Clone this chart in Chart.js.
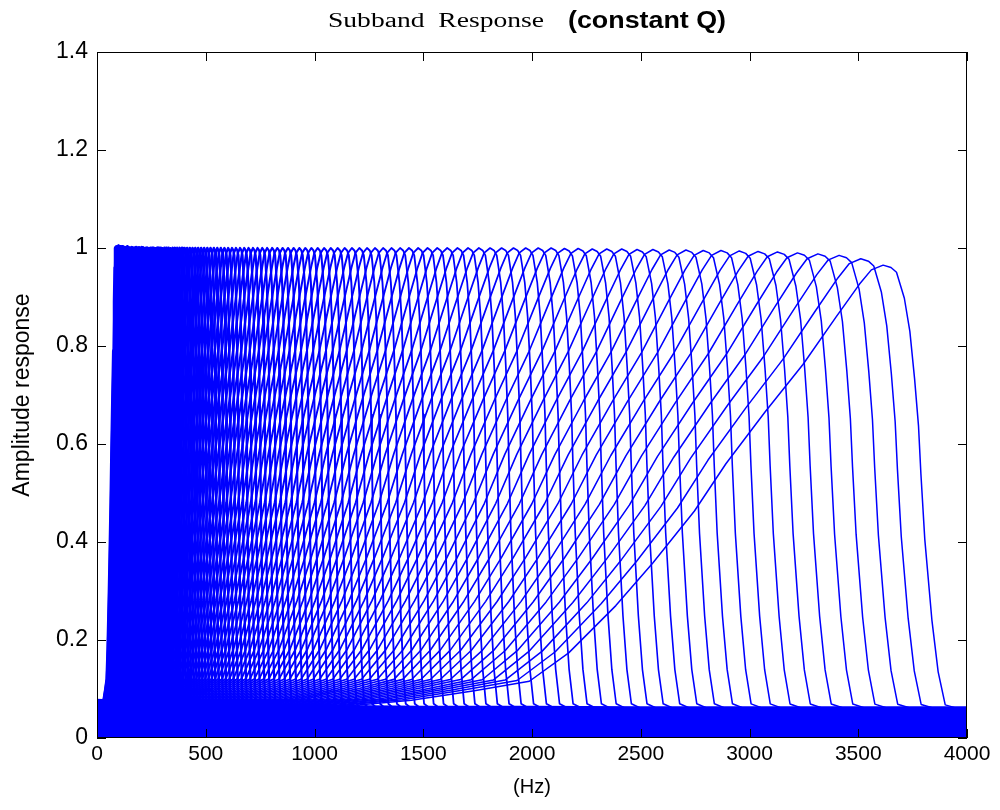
<!DOCTYPE html>
<html>
<head>
<meta charset="utf-8">
<script src="https://cdn.jsdelivr.net/npm/chart.js@4.4.1/dist/chart.umd.min.js"></script>
<style>
  html, body { margin: 0; padding: 0; background: #fff; }
  #wrap { width: 1000px; height: 810px; }
</style>
</head>
<body>
<div id="wrap"><canvas id="chart" width="1000" height="810"></canvas></div>
<script>
const centerHz = [
  87.1, 89.7, 92.3, 95.0, 97.8, 100.6, 103.6, 106.6, 109.7, 113.0, 116.3, 119.7,
  123.2, 126.8, 130.5, 134.3, 138.3, 142.3, 146.5, 150.8, 155.2, 159.7, 164.4, 169.2,
  174.2, 179.3, 184.6, 190.0, 195.5, 201.3, 207.2, 213.2, 219.5, 225.9, 232.5, 239.4,
  246.4, 253.6, 261.0, 268.7, 276.5, 284.6, 293.0, 301.6, 310.4, 319.5, 328.8, 338.5,
  348.4, 358.6, 369.1, 379.9, 391.1, 402.6, 414.3, 426.5, 439.0, 451.8, 465.0, 478.7,
  492.7, 507.2, 522.0, 537.3, 553.0, 569.2, 585.9, 603.1, 620.8, 639.0, 657.7, 677.0,
  696.8, 717.2, 738.2, 759.8, 782.2, 805.1, 828.6, 853.0, 877.9, 903.6, 930.1, 957.4,
  985.4, 1014.3, 1044.0, 1074.6, 1106.1, 1138.5, 1171.8, 1206.2, 1241.5, 1277.9, 1315.4, 1353.9,
  1393.6, 1434.4, 1476.5, 1519.7, 1564.3, 1610.2, 1657.3, 1705.9, 1755.8, 1807.2, 1860.2, 1914.9,
  1970.9, 2028.6, 2088.0, 2149.3, 2212.2, 2277.0, 2343.7, 2412.5, 2483.0, 2555.8, 2630.7, 2707.8,
  2787.2, 2868.8, 2953.0, 3039.4, 3128.6, 3220.5, 3314.6, 3411.8, 3511.7, 3614.4
];

// peak height of each subband
const peakAmp = [
  1.0, 1.002, 0.997, 1.0, 1.003, 0.997, 1.0, 1.002, 0.998, 1.0, 1.002, 0.997,
  1.0, 1.001, 0.998, 1.0, 1.002, 0.998, 1.0, 1.0, 0.998, 1.001, 1.0, 0.998,
  1.0, 1.001, 0.999, 1.0, 1.0, 0.999, 1.001, 1.0, 0.999, 1.0, 1.0, 0.999,
  1.0, 1.0, 1.0, 0.999, 1.0, 1.0, 1.0, 0.999, 1.0, 1.0, 1.0, 0.999,
  1.0, 1.0, 1.0, 1.0, 1.0, 1.0, 1.0, 1.0, 1.0, 1.0, 1.0, 1.0,
  1.0, 1.0, 1.0, 1.0, 1.0, 1.0, 1.0, 1.0, 1.0, 1.0, 1.0, 1.0,
  1.0, 1.0, 1.0, 1.0, 1.0, 1.0, 1.0, 1.0, 1.0, 1.0, 1.0, 1.0,
  1.0, 1.0, 1.0, 1.0, 1.0, 1.0, 1.0, 1.0, 1.0, 1.0, 1.0, 1.0,
  1.0, 1.0, 1.0, 1.0, 1.0, 1.0, 1.0, 1.0, 1.0, 1.0, 1.0, 1.0,
  1.0, 1.0, 1.0, 0.999, 0.999, 0.998, 0.998, 0.998, 0.997, 0.997, 0.996, 0.996,
  0.995, 0.995, 0.994, 0.993, 0.992, 0.99, 0.988, 0.985, 0.978, 0.965
];

// one subband's response: f / fc -> gain / peak
const shapeRatio = [0, 0.20, 0.30, 0.40, 0.48, 0.55, 0.60, 0.66, 0.707, 0.76, 0.80, 0.85, 0.898, 0.94, 0.97, 0.985,
  1.0, 1.01, 1.017, 1.027, 1.034, 1.040, 1.045, 1.048, 1.053, 1.062, 1.070, 1.079, 1.10, 1.5, 3, 50];
const shapeGain = [0.06, 0.062, 0.065, 0.08, 0.10, 0.12, 0.18, 0.28, 0.37, 0.48, 0.58, 0.69, 0.79, 0.89, 0.96, 0.99,
  1.0, 0.995, 0.985, 0.93, 0.86, 0.76, 0.66, 0.56, 0.42, 0.25, 0.14, 0.07, 0.06, 0.055, 0.05, 0.05];

// dense sidelobe floor along the bottom
const floorHz = [0, 250, 500, 1000, 1500, 2000, 2500, 3000, 3500, 4000];
const floorAmp = [0.08, 0.075, 0.07, 0.068, 0.066, 0.066, 0.065, 0.065, 0.065, 0.065];

const xTicks = [0, 500, 1000, 1500, 2000, 2500, 3000, 3500, 4000];
const yTicks = [0, 0.2, 0.4, 0.6, 0.8, 1, 1.2, 1.4];

const BLUE = "#0000ff";
const SANS = "'Liberation Sans', Arial, sans-serif";
const TICK_FONT = { family: SANS, size: 21 };
const YTICK_FONT = { family: SANS, size: 23 };

// the low bands are drawn heavier: in the original they merge into a solid block
const datasets = centerHz.map((fc, i) => ({
  data: shapeRatio.map((r, j) => ({ x: r * fc, y: shapeGain[j] * peakAmp[i] })),
  borderColor: BLUE,
  borderWidth: 1.5 + 2.6 * Math.pow(1 - i / (centerHz.length - 1), 1.5),
  borderJoinStyle: "round",
  pointRadius: 0,
  fill: false,
  tension: 0,
}));

datasets.push({
  data: floorHz.map((f, j) => ({ x: f, y: floorAmp[j] })),
  borderColor: BLUE,
  borderWidth: 0,
  backgroundColor: BLUE,
  pointRadius: 0,
  fill: "origin",
  tension: 0,
});

function fitText(ctx, text, x, y, width) {
  const w = ctx.measureText(text).width;
  ctx.save();
  ctx.translate(x, y);
  ctx.scale(width / w, 1);
  ctx.fillText(text, 0, 0);
  ctx.restore();
}

// box with inward ticks, plus the two-font title
const frame = {
  id: "frame",
  afterDatasetsDraw(chart) {
    const { ctx, chartArea: a, scales } = chart;
    const len = 9;
    ctx.save();
    ctx.strokeStyle = "#000";
    ctx.lineWidth = 1;
    ctx.strokeRect(a.left + 0.5, a.top + 0.5, a.right - a.left - 1, a.bottom - a.top - 1);
    ctx.beginPath();
    xTicks.forEach((v) => {
      const x = Math.round(scales.x.getPixelForValue(v)) + 0.5;
      ctx.moveTo(x, a.bottom); ctx.lineTo(x, a.bottom - len);
      ctx.moveTo(x, a.top); ctx.lineTo(x, a.top + len);
    });
    yTicks.forEach((v) => {
      const y = Math.round(scales.y.getPixelForValue(v)) + 0.5;
      ctx.moveTo(a.left, y); ctx.lineTo(a.left + len, y);
      ctx.moveTo(a.right, y); ctx.lineTo(a.right - len, y);
    });
    ctx.stroke();
    ctx.restore();
  },
  afterDraw(chart) {
    const ctx = chart.ctx;
    ctx.save();
    ctx.fillStyle = "#000";
    ctx.textBaseline = "alphabetic";
    ctx.font = "20px 'Liberation Serif', 'DejaVu Serif', serif";
    fitText(ctx, "Subband  Response", 328, 27, 216);
    ctx.font = "bold 23px " + SANS;
    fitText(ctx, "(constant Q)", 568, 28, 158);
    ctx.restore();
  },
};

new Chart(document.getElementById("chart"), {
  type: "line",
  data: { datasets },
  plugins: [frame],
  options: {
    responsive: false,
    animation: false,
    events: [],
    layout: { padding: { top: 52, right: 33, left: 0, bottom: 0 } },
    plugins: { legend: { display: false }, tooltip: { enabled: false } },
    scales: {
      x: {
        type: "linear",
        min: 0,
        max: 4000,
        afterBuildTicks: (s) => { s.ticks = xTicks.map((v) => ({ value: v })); },
        afterFit: (s) => { s.height = 72; },
        grid: { display: false, drawTicks: false },
        border: { display: false },
        ticks: {
          color: "#000",
          font: TICK_FONT,
          padding: 4,
          maxRotation: 0,
          autoSkip: false,
          callback: (v) => String(v),
        },
        title: {
          display: true,
          text: "(Hz)",
          color: "#000",
          font: { family: SANS, size: 20 },
          padding: { top: 0, bottom: 11 },
        },
      },
      y: {
        type: "linear",
        min: 0,
        max: 1.4,
        afterBuildTicks: (s) => { s.ticks = yTicks.map((v) => ({ value: v })); },
        afterFit: (s) => { s.width = 97; },
        grid: { display: false, drawTicks: false },
        border: { display: false },
        ticks: {
          color: "#000",
          font: YTICK_FONT,
          padding: 9,
          autoSkip: false,
          callback: (v) => String(+v.toFixed(1)),
        },
        title: {
          display: true,
          text: "Amplitude response",
          color: "#000",
          font: { family: SANS, size: 23 },
          padding: { top: 9, bottom: 0 },
        },
      },
    },
  },
});
</script>
</body>
</html>
